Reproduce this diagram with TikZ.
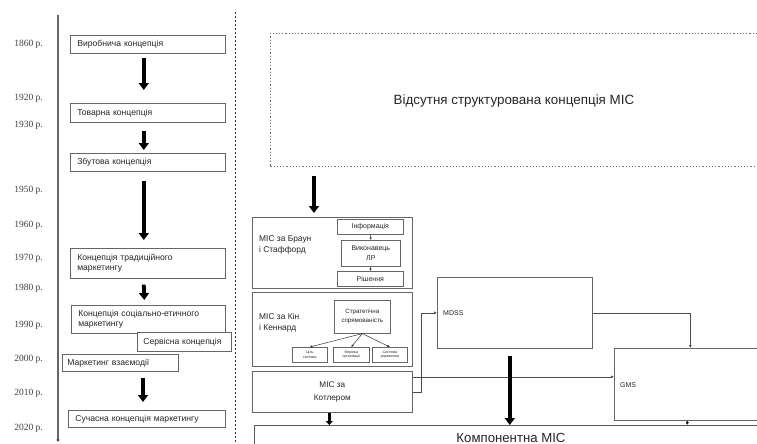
\documentclass[tikz,border=0pt]{standalone}
\usepackage{fontspec}
\setmainfont{Liberation Sans}
\newfontfamily\yrfont{Liberation Serif}
\usetikzlibrary{arrows.meta}
\begin{document}
\begin{tikzpicture}[x=1pt,y=-1pt,
  box/.style={draw=black!60, line width=0.6pt, inner sep=0pt, anchor=north west, align=left, font=\fontsize{8.6}{10.5}\selectfont, text=black!85},
  cbox/.style={draw=black!60, line width=0.6pt, inner sep=0pt, anchor=north west, align=center, font=\fontsize{7}{9.5}\selectfont, text=black!85},
  lbl/.style={inner sep=0pt, anchor=west, align=left, font=\fontsize{8.4}{10.5}\selectfont, text=black!85},
  yearlbl/.style={inner sep=0pt, anchor=east, font=\yrfont\fontsize{9.5}{10}\selectfont, text=black!75},
  bigarrow/.style={line width=3.8pt, -{Triangle[width=10pt,length=7pt]}},
  thinarrow/.style={draw=black!70, line width=0.6pt, -{Latex[length=3pt,width=3pt]}},
  tinyarrow/.style={draw=black!80, line width=0.5pt, -{Latex[length=2.5pt,width=2.5pt]}}]
\useasboundingbox (0,0) rectangle (757,444);
\fill[white] (0,0) rectangle (757,444);

% timeline
\coordinate (tl1) at (58,15);
\coordinate (tl2) at (58,440);
\draw[black!60, line width=2pt] (tl1) -- (tl2);
\fill[black!70] (tl2) circle (1.6pt);
\coordinate (dv1) at (235,12);
\coordinate (dv2) at (235,444);
\draw[black!80, line width=0.7pt, dash pattern=on 2pt off 2pt] (dv1) -- (dv2);

% years
\node[yearlbl] (y1860) at (43,44) {1860 р.};
\node[yearlbl] (y1920) at (43,98) {1920 р.};
\node[yearlbl] (y1930) at (43,125) {1930 р.};
\node[yearlbl] (y1950) at (43,190) {1950 р.};
\node[yearlbl] (y1960) at (43,225) {1960 р.};
\node[yearlbl] (y1970) at (43,258) {1970 р.};
\node[yearlbl] (y1980) at (43,288) {1980 р.};
\node[yearlbl] (y1990) at (43,325) {1990 р.};
\node[yearlbl] (y2000) at (43,359) {2000 р.};
\node[yearlbl] (y2010) at (43,393) {2010 р.};
\node[yearlbl] (y2020) at (43,428) {2020 р.};

% left boxes
\node[box, minimum width=155pt, minimum height=18pt, text width=141pt] (b1) at (70,35) {Виробнича концепція};
\node[box, minimum width=155pt, minimum height=19pt, text width=141pt] (b2) at (70,103) {Товарна концепція};
\node[box, minimum width=155pt, minimum height=18pt, text width=141pt] (b3) at (70,153) {Збутова концепція};
\node[box, minimum width=155pt, minimum height=30pt, text width=141pt] (b4) at (70,248) {Концепція традиційного\\маркетингу};
\node[box, minimum width=154pt, minimum height=28pt, text width=140pt] (b5) at (71,305) {Концепція соціально-етичного\\маркетингу};
\node[box, fill=white, minimum width=94pt, minimum height=19pt, text width=82pt] (b6) at (137,332) {Сервісна концепція};
\node[box, fill=white, minimum width=116pt, minimum height=17pt, text width=106pt] (b7) at (62,354) {Маркетинг взаємодії};
\node[box, minimum width=157pt, minimum height=17pt, text width=143pt] (b8) at (68,410) {Сучасна концепція маркетингу};

\draw[bigarrow] ([xshift=-4pt,yshift=-4pt]b1.south) -- ([xshift=-4pt,yshift=13pt]b2.north);
\draw[bigarrow] ([xshift=-4pt,yshift=-8pt]b2.south) -- ([xshift=-4pt,yshift=3pt]b3.north);
\draw[bigarrow] ([xshift=-4pt,yshift=-9pt]b3.south) -- ([xshift=-4pt,yshift=8pt]b4.north);
\draw[bigarrow] ([xshift=-4pt,yshift=-6pt]b4.south) -- ([xshift=-4pt,yshift=5pt]b5.north);
\coordinate (a5s) at (143,378);
\coordinate (a5e) at (143,402);
\draw[bigarrow] (a5s) -- (a5e);

% top dotted box
\node[draw=black!55, line width=0.7pt, dash pattern=on 1.2pt off 2pt, inner sep=0pt, anchor=north west, minimum width=500pt, minimum height=133pt] (topbox) at (270,33) {};
\node[inner sep=0pt, font=\fontsize{13.4}{15}\selectfont, text=black!85] (toptext) at (514,101) {Відсутня структурована концепція МІС};

% Brown & Stafford
\node[box, minimum width=160pt, minimum height=71pt] (mbrown) at (252,217) {};
\node[lbl] (brownt) at (259,245) {МІС за Браун\\і Стаффорд};
\node[cbox, minimum width=66pt, minimum height=15pt] (info) at (337,219) {Інформація};
\node[cbox, minimum width=59pt, minimum height=26pt] (vyk) at (341,240) {Виконавець\\ЛР};
\node[cbox, minimum width=66pt, minimum height=15pt] (rish) at (337,271) {Рішення};
\draw[tinyarrow] (info.south) -- (vyk.north);
\draw[tinyarrow] (vyk.south) -- (rish.north);

\coordinate (t1) at ([xshift=44pt,yshift=-9pt]topbox.south west);
\coordinate (t2) at ([yshift=4pt]mbrown.north);
\draw[bigarrow] (t1) -- (t1 |- t2);

% Keen
\node[box, minimum width=160pt, minimum height=74pt] (keen) at (252,292) {};
\node[lbl] (keent) at (259,323) {МІС за Кін\\і Кеннард};
\node[cbox, minimum width=56pt, minimum height=33pt, font=\fontsize{6.2}{9}\selectfont] (strat) at (334,300) {Стратегічна\\спрямованість};
\node[cbox, minimum width=35pt, minimum height=15pt, font=\fontsize{3.6}{4.2}\selectfont] (s1) at (292,347) {Ціль\\системи};
\node[cbox, minimum width=36pt, minimum height=15pt, font=\fontsize{3.6}{4.2}\selectfont] (s2) at (333,347) {Мережа\\організації};
\node[cbox, minimum width=35pt, minimum height=15pt, font=\fontsize{3.6}{4.2}\selectfont] (s3) at (372,347) {Система\\управління};
\draw[tinyarrow] (strat.south) -- (s1.north);
\draw[tinyarrow] (strat.south) -- (s2.north);
\draw[tinyarrow] (strat.south) -- (s3.north);

% Kotler
\node[cbox, minimum width=160pt, minimum height=41pt, font=\fontsize{8.2}{12.5}\selectfont] (kotler) at (252,371) {МІС за\\Котлером};

% Component
\node[draw=black!65, line width=0.6pt, inner sep=0pt, anchor=north west, minimum width=520pt, minimum height=40pt] (comp) at (254,425) {};
\node[inner sep=0pt, font=\fontsize{13.2}{15}\selectfont, text=black!85] (compt) at (511,438) {Компонентна МІС};

% MDSS & GMS
\node[box, minimum width=155pt, minimum height=71pt] (mdss) at (437,277) {};
\node[lbl, font=\fontsize{7}{8}\selectfont] (mdsst) at (443,313) {MDSS};
\node[box, minimum width=160pt, minimum height=72pt] (gms) at (614,348) {};
\node[lbl, font=\fontsize{7}{8}\selectfont] (gmst) at (620,385) {GMS};

% connectors
\draw[thinarrow] (kotler.east) -- ++(9,0) |- (mdss.west);
\coordinate (k2) at ([yshift=15pt]kotler.east);
\draw[thinarrow] (k2) -- (k2 -| gms.west);
\coordinate (g1) at ([xshift=-4pt]gms.north);
\draw[thinarrow] (mdss.east) -| (g1);
\coordinate (m1) at ([xshift=-5pt,yshift=-7pt]mdss.south);
\draw[bigarrow] (m1) -- (m1 |- comp.north);
\coordinate (k3) at ([xshift=-3pt]kotler.south);
\draw[bigarrow, line width=2.5pt, -{Triangle[width=7pt,length=4pt]}] (k3) -- (k3 |- comp.north);
\coordinate (g2) at ([xshift=-7pt]gms.south);
\draw[tinyarrow] (g2) -- (g2 |- comp.north);
\fill[black] ([yshift=-2pt]g2) circle (1.5pt);
\end{tikzpicture}
\end{document}
